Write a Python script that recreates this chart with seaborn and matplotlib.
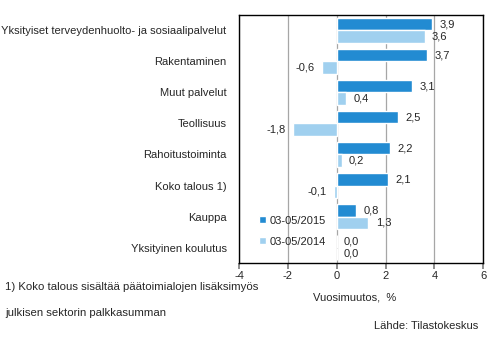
import matplotlib
matplotlib.use("Agg")
import matplotlib.pyplot as plt
import seaborn as sns
import pandas as pd

categories = ["Yksityiset terveydenhuolto- ja sosiaalipalvelut", "Rakentaminen",
              "Muut palvelut", "Teollisuus", "Rahoitustoiminta", "Koko talous 1)",
              "Kauppa", "Yksityinen koulutus"]
series_names = ["03-05/2015", "03-05/2014"]
values_2015 = [3.9, 3.7, 3.1, 2.5, 2.2, 2.1, 0.8, 0.0]
values_2014 = [3.6, -0.6, 0.4, -1.8, 0.2, -0.1, 1.3, 0.0]
x_ticks = [-4, -2, 0, 2, 4, 6]

sns.set_theme(style="white")
plt.rcParams['font.family'] = ['Liberation Sans', 'DejaVu Sans']

df = pd.DataFrame({
    "cat": categories * 2,
    "val": values_2015 + values_2014,
    "period": [series_names[0]] * len(categories) + [series_names[1]] * len(categories),
})

fig = plt.figure(figsize=(4.94, 3.39), dpi=100)
ax = fig.add_axes([0.484, 0.224, 0.494, 0.732])
palette = {series_names[0]: "#228bd2", series_names[1]: "#a0d0ef"}
sns.barplot(data=df, y="cat", x="val", hue="period", palette=palette, orient="h",
            width=0.82, ax=ax, saturation=1, legend=True)

ax.set_xlim(-4, 6)
ax.set_xticks(x_ticks)
ax.set_xticklabels([f"{t}" for t in x_ticks], fontsize=8)
ax.xaxis.grid(True, color="#a6a6a6", linewidth=0.9)
ax.set_axisbelow(True)
ax.set_xlabel("")
ax.set_ylabel("")
ax.tick_params(axis="y", length=0, labelsize=8.0, pad=9)
ax.tick_params(axis="x", length=4, direction="out", bottom=True, color="#808080", pad=2)
for s in ax.spines.values():
    s.set_color("black")
    s.set_linewidth(1.0)

for cont in ax.containers:
    for bar, v in zip(cont, cont.datavalues):
        y = bar.get_y() + bar.get_height() / 2
        lbl = f"{v:.1f}".replace(".", ",")
        if v < 0:
            ax.text(v - 0.3, y, lbl, ha="right", va="center", fontsize=8)
        else:
            ax.text(v + 0.3, y, lbl, ha="left", va="center", fontsize=8)

leg = ax.legend(loc="lower left", bbox_to_anchor=(0.04, 0.025), frameon=False, fontsize=8,
                handlelength=0.6, handleheight=0.6, handletextpad=0.4, labelspacing=1.0)

fig.text(0.634, 0.121, "Vuosimuutos,  %", fontsize=8, ha="left", va="center")
fig.text(0.01, 0.153, "1) Koko talous sisältää päätoimialojen lisäksimyös", fontsize=8.2,
         ha="left", va="center")
fig.text(0.01, 0.077, "julkisen sektorin palkkasumman", fontsize=8.2, ha="left", va="center")
fig.text(0.968, 0.038, "Lähde: Tilastokeskus", fontsize=8, ha="right", va="center")

fig.savefig("out.png", dpi=100)
